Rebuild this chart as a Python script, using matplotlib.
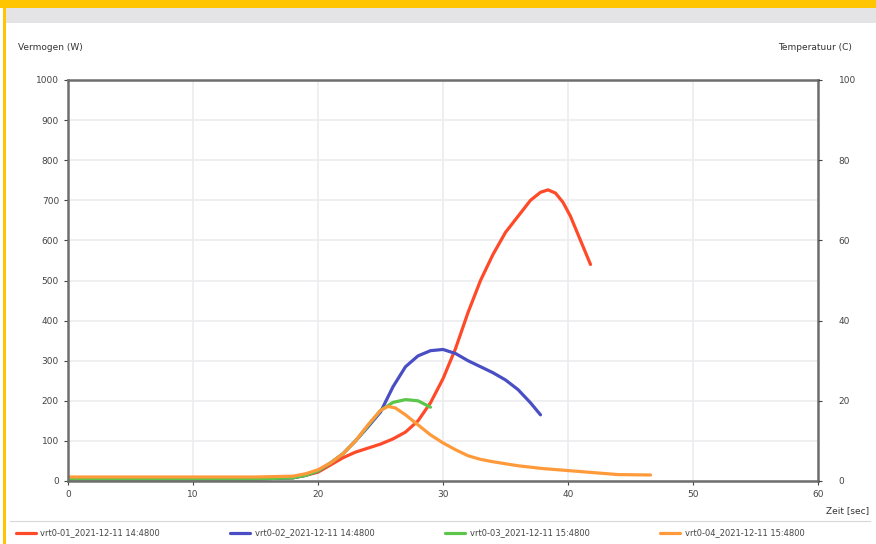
import matplotlib.pyplot as plt
from matplotlib.patches import Rectangle
from matplotlib.lines import Line2D

# series (time in sec, power in W)
red_t = [0, 5, 10, 15, 18, 19, 20, 21, 22, 23, 24, 25, 26, 27, 28, 29, 30, 31, 32, 33, 34, 35, 36, 37, 37.8, 38.4, 39, 39.6, 40.2, 40.8, 41.4, 41.8]
red_p = [5, 5, 5, 5, 8, 14, 22, 40, 58, 72, 82, 92, 105, 122, 150, 195, 255, 330, 420, 500, 565, 620, 660, 700, 720, 726, 718, 695, 660, 615, 570, 540]

blue_t = [0, 5, 10, 15, 18, 19, 20, 21, 22, 23, 24, 25, 26, 27, 28, 29, 30, 31, 32, 33, 34, 35, 36, 37, 37.8]
blue_p = [5, 5, 5, 5, 8, 14, 25, 45, 68, 100, 135, 172, 235, 285, 312, 325, 328, 318, 300, 285, 270, 252, 228, 195, 165]

green_t = [0, 5, 10, 15, 18, 19, 20, 21, 22, 23, 24, 25, 26, 27, 28, 29]
green_p = [5, 5, 5, 5, 8, 14, 25, 45, 68, 100, 138, 176, 196, 203, 200, 184]

orange_t = [0, 5, 10, 15, 18, 19, 20, 21, 22, 23, 24, 25, 25.6, 26.2, 27, 28, 29, 30, 31, 32, 33, 34, 35, 36, 38, 40, 42, 44, 46.6]
orange_p = [10, 10, 10, 10, 12, 18, 28, 45, 68, 100, 140, 176, 186, 182, 165, 140, 115, 95, 78, 63, 54, 48, 43, 38, 31, 26, 21, 16, 15]

labels = ['vrt0-01_2021-12-11 14:4800', 'vrt0-02_2021-12-11 14:4800',
          'vrt0-03_2021-12-11 15:4800', 'vrt0-04_2021-12-11 15:4800']
colors = ['#ff4a2a', '#4a4ec4', '#5cc64a', '#ff9a3a']

power_ticks = list(range(0, 1001, 100))
temp_ticks = [0, 20, 40, 60, 80, 100]
time_ticks = list(range(0, 61, 10))

fig = plt.figure(figsize=(8.76, 5.44), dpi=100)
fig.patch.set_facecolor('white')

# frame decoration: yellow top bar, grey band, yellow left line
fig.add_artist(Rectangle((0, 536 / 544), 1, 8 / 544, transform=fig.transFigure, color='#ffc500', lw=0))
fig.add_artist(Rectangle((6 / 876, 521 / 544), 870 / 876, 15 / 544, transform=fig.transFigure, color='#e4e4e6', lw=0))
fig.add_artist(Rectangle((3 / 876, 0), 3 / 876, 1, transform=fig.transFigure, color='#ffc500', lw=0))

ax = fig.add_axes([68 / 876, 63 / 544, 750 / 876, 401 / 544])
for t, p, c, lab in zip([red_t, blue_t, green_t, orange_t],
                        [red_p, blue_p, green_p, orange_p], colors, labels):
    ax.plot(t, p, color=c, lw=2.3, label=lab, solid_capstyle='round', solid_joinstyle='round')

ax.set_xlim(0, 60)
ax.set_ylim(0, 1000)
ax.set_xticks(time_ticks)
ax.set_yticks(power_ticks)
ax.grid(True, color='#ececf0', lw=1.2)
ax.tick_params(labelsize=6.5, colors='#444444', length=3)
for s in ax.spines.values():
    s.set_color('#6e6e6e')
    s.set_linewidth(1.8)

ax2 = ax.twinx()
ax2.set_ylim(0, 100)
ax2.set_yticks(temp_ticks)
ax2.tick_params(labelsize=6.5, colors='#444444', length=3, pad=12)
for s in ax2.spines.values():
    s.set_visible(False)

fig.text(50 / 876, 1 - 48 / 544, 'Vermogen (W)', fontsize=6.5, color='#333333', ha='center', va='center')
fig.text(815 / 876, 1 - 48 / 544, 'Temperatuur (C)', fontsize=6.5, color='#333333', ha='center', va='center')
fig.text(848 / 876, 1 - 511 / 544, 'Zeit [sec]', fontsize=6.5, color='#333333', ha='center', va='center')

fig.add_artist(Line2D([10 / 876, 870 / 876], [1 - 521 / 544] * 2, transform=fig.transFigure, color='#d8d8d8', lw=0.8))
fig.legend(loc='lower left', bbox_to_anchor=(8 / 876, -0.002), ncol=4, frameon=False,
           fontsize=6, handlelength=2.4, handletextpad=0.6, columnspacing=8.4, labelcolor='#444444')

fig.savefig('out.png', dpi=100)
